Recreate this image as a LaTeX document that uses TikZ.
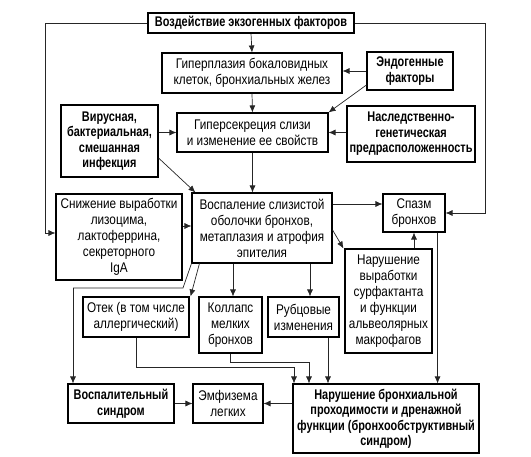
\documentclass[tikz,border=0pt]{standalone}
\usepackage{fontspec}
\setmainfont{Liberation Sans}[FakeStretch=0.84, BoldFeatures={FakeStretch=0.78}]
\usetikzlibrary{arrows.meta}

\tikzset{
	box/.style={draw, line width=1.1pt, align=center, inner sep=1pt,
		font=\fontsize{14}{16}\selectfont},
	boldbox/.style={box, font=\fontsize{14}{15.5}\selectfont\bfseries},
	conn/.style={draw=black!85, line width=0.7pt, -{Latex[length=7pt,width=6pt]}},
	wire/.style={draw=black!85, line width=0.7pt}
}

\begin{document}
\begin{tikzpicture}[x=1pt, y=-1pt]
	\useasboundingbox (0,0) rectangle (531,457);

	% boxes
	\node[boldbox, minimum width=206pt, minimum height=20pt] (exo) at (251,23) {Воздействие экзогенных факторов};
	\node[box, minimum width=180pt, minimum height=40pt] (hyper) at (252,73) {Гиперплазия бокаловидных\\клеток, бронхиальных желез};
	\node[boldbox, minimum width=86pt, minimum height=38pt] (endo) at (410,71) {Эндогенные\\факторы};
	\node[box, minimum width=151pt, minimum height=39pt] (hsec) at (252.5,132.5) {Гиперсекреция слизи\\и изменение ее свойств};
	\node[boldbox, minimum width=97pt, minimum height=72pt] (virus) at (109.5,141) {Вирусная,\\бактериальная,\\смешанная\\инфекция};
	\node[boldbox, minimum width=128pt, minimum height=56pt] (hered) at (411,134) {Наследственно-\\генетическая\\предрасположенность};
	\node[box, minimum width=140pt, minimum height=70pt] (infl) at (262,228) {Воспаление слизистой\\оболочки бронхов,\\метаплазия и атрофия\\эпителия};
	\node[box, minimum width=126pt, minimum height=86pt] (lyso) at (119,237) {Снижение выработки\\лизоцима,\\лактоферрина,\\секреторного\\IgA};
	\node[box, minimum width=62pt, minimum height=38pt] (spasm) at (414,213) {Спазм\\бронхов};
	\node[box, minimum width=87pt, minimum height=104pt] (surf) at (388.5,301) {Нарушение\\выработки\\сурфактанта\\и функции\\альвеолярных\\макрофагов};
	\node[box, minimum width=106pt, minimum height=40pt] (edema) at (136,317) {Отек (в том числе\\аллергический)};
	\node[box, minimum width=63pt, minimum height=56pt] (coll) at (230.5,325) {Коллапс\\мелких\\бронхов};
	\node[box, minimum width=71pt, minimum height=40pt] (scar) at (303.5,317) {Рубцовые\\изменения};
	\node[boldbox, minimum width=106pt, minimum height=39pt] (inflsyn) at (121,403.5) {Воспалительный\\синдром};
	\node[box, minimum width=70pt, minimum height=39pt] (emph) at (228,403.5) {Эмфизема\\легких};
	\node[boldbox, minimum width=186pt, minimum height=69pt] (obstr) at (386,418.5) {Нарушение бронхиальной\\проходимости и дренажной\\функции (бронхообструктивный\\синдром)};

	% corners of the connectors
	\coordinate (lturn) at (45,233);
	\coordinate (rturn) at (485,213);
	\coordinate (k1) at (183,288);
	\coordinate (k2) at (73,288);
	\coordinate (e1) at (294,367);
	\coordinate (c1) at (309,362);

	% connectors
	\draw[conn] (exo.west) -| (lturn) -- (lturn -| lyso.west);
	\draw[conn] (exo.east) -| (rturn) -- (spasm.east);
	\draw[conn] (exo.south) -- (hyper.north);
	\draw[conn] (endo.west) -- (endo.west -| hyper.east);
	\draw[conn] ([yshift=-14pt]endo.west) -- (hsec.north east);
	\draw[conn] (hyper.south) -- (hsec.north);
	\draw[conn] (virus.east |- hsec.west) -- (hsec.west);
	\draw[conn] (hered.west |- hsec.east) -- (hsec.east);
	\draw[conn] (hsec.south) -- (hsec.south |- infl.north);
	\draw[conn] ([yshift=-17pt]virus.east) -- ([xshift=4pt]infl.north west);
	\draw[conn] ([yshift=11pt]lyso.east) -- ([yshift=11pt]lyso.east -| infl.west);
	\draw[conn] ([yshift=24pt]infl.east) -- ([yshift=24pt]infl.east -| spasm.west);
	\draw[conn] ([yshift=-2pt]infl.east) -- ([xshift=-1pt]surf.north west);
	\draw[conn] (spasm.south |- surf.north) -- (spasm.south);
	\draw[conn] ([xshift=-8pt]spasm.south east) -- ([xshift=-8pt]spasm.south east |- obstr.north);
	\draw[wire] (infl.south west) -- (k1) -- (k2);
	\draw[conn] (k2) -- (k2 |- inflsyn.north);
	\draw[conn] ([xshift=8pt]infl.south west) -- ([xshift=1pt]edema.north east);
	\draw[conn] ([xshift=2.5pt]coll.north |- infl.south) -- ([xshift=2.5pt]coll.north);
	\draw[conn] ([xshift=6.5pt]scar.north |- infl.south) -- ([xshift=6.5pt]scar.north);
	\draw[conn] (edema.south) |- (e1) -- (e1 |- obstr.north);
	\draw[conn] (coll.south) |- (c1) -- (c1 |- obstr.north);
	\draw[conn] ([xshift=24.5pt]scar.south) -- ([xshift=24.5pt]scar.south |- obstr.north);
	\draw[conn] (inflsyn.east) -- (emph.west);
	\draw[conn] (obstr.west |- emph.east) -- (emph.east);
\end{tikzpicture}
\end{document}
